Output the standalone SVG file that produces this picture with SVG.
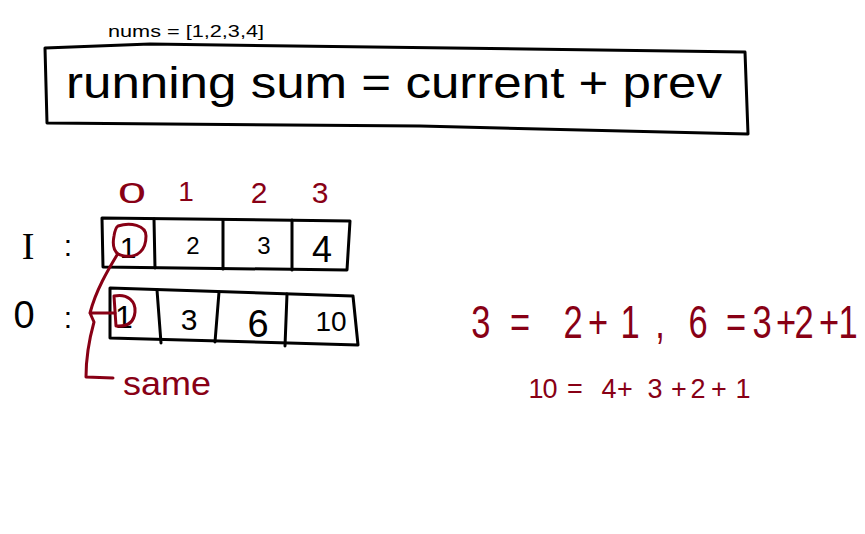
<svg xmlns="http://www.w3.org/2000/svg" width="865" height="534" viewBox="0 0 865 534">
<style>
.ink{fill:none;stroke:#000;stroke-width:3;stroke-linejoin:round;stroke-linecap:round}
.red{fill:none;stroke:#880015;stroke-width:3;stroke-linejoin:round;stroke-linecap:round}
.t{font-family:"Liberation Sans",Arial,sans-serif;fill:#000}
.r{font-family:"Liberation Sans",Arial,sans-serif;fill:#880015}
</style>
<rect width="865" height="534" fill="#fff"/>
<g id="title">
<text class="t" x="108" y="37" font-size="17" textLength="156" lengthAdjust="spacingAndGlyphs">nums = [1,2,3,4]</text>
</g>
<g id="formula">
<path class="ink" d="M45,48 L150,44 L745,52 L748,134 L420,126 L47,123 Z"/>
<text class="t" x="66" y="98" font-size="44" textLength="656" lengthAdjust="spacingAndGlyphs">running sum = current + prev</text>
</g>
<g id="indices">
<text class="r" x="132" y="203" font-size="30" text-anchor="middle" textLength="28" lengthAdjust="spacingAndGlyphs">0</text>
<text class="r" x="186" y="201" font-size="28" text-anchor="middle">1</text>
<text class="r" x="259" y="203" font-size="30" text-anchor="middle">2</text>
<text class="r" x="320" y="203" font-size="30" text-anchor="middle">3</text>
</g>
<g id="input">
<text x="28" y="259" font-size="38" text-anchor="middle" font-family="'Liberation Serif',serif" fill="#000">I</text>
<text class="t" x="68" y="256" font-size="30" text-anchor="middle">:</text>
<path class="ink" d="M102,218 L350,221 L347,270 L103,267 Z"/>
<path class="ink" d="M154,219 L155,268 M223,220 L223,269 M292,220 L292,270"/>
<text class="t" x="128" y="258" font-size="30" text-anchor="middle">1</text>
<text class="t" x="193" y="254" font-size="24" text-anchor="middle">2</text>
<text class="t" x="264" y="254" font-size="24" text-anchor="middle">3</text>
<text class="t" x="322" y="262" font-size="36" text-anchor="middle">4</text>
</g>
<g id="output">
<text class="t" x="24" y="328" font-size="38" text-anchor="middle">0</text>
<text class="t" x="68" y="328" font-size="30" text-anchor="middle">:</text>
<path class="ink" d="M110,288 L353,296 L358,345 L110,338 Z"/>
<path class="ink" d="M157,290 L161,343 M219,292 L215,342 M287,294 L285,346"/>
<text class="t" x="124" y="328" font-size="32" text-anchor="middle">1</text>
<text class="t" x="189" y="330" font-size="30" text-anchor="middle">3</text>
<text class="t" x="258" y="337" font-size="38" text-anchor="middle">6</text>
<text class="t" x="331" y="331" font-size="28" text-anchor="middle">10</text>
</g>
<g id="connectors">
<path class="red" d="M118,226 C130,222 146,225 146,236 C146,250 138,258 124,256 C114,255 112,246 114,236 C115,230 116,227 118,226 Z"/>
<path class="red" d="M114,296 C128,293 136,302 135,312 C134,322 128,327 116,326 L114,296 Z"/>
<path class="red" d="M117,255 C108,270 96,290 90,313 L115,313 M90,313 L94,322 C89,340 86,360 86,377 L113,378"/>
</g>
<g id="same-label">
<text class="r" x="123" y="395" font-size="34" textLength="88" lengthAdjust="spacingAndGlyphs">same</text>
</g>
<g id="equations">
<text class="r" y="338" font-size="46" text-anchor="middle" transform="scale(0.75,1)" x="641.3 693.3 764 797.3 840 880 930.7 981.3 1016 1048 1072 1105.3 1130.7">3=2+1,6=3+2+1</text>
<text class="r" y="398" font-size="27" text-anchor="middle" x="536 550 575 609 625 655 679 698 719 743">10=4+3+2+1</text>
</g>
</svg>
